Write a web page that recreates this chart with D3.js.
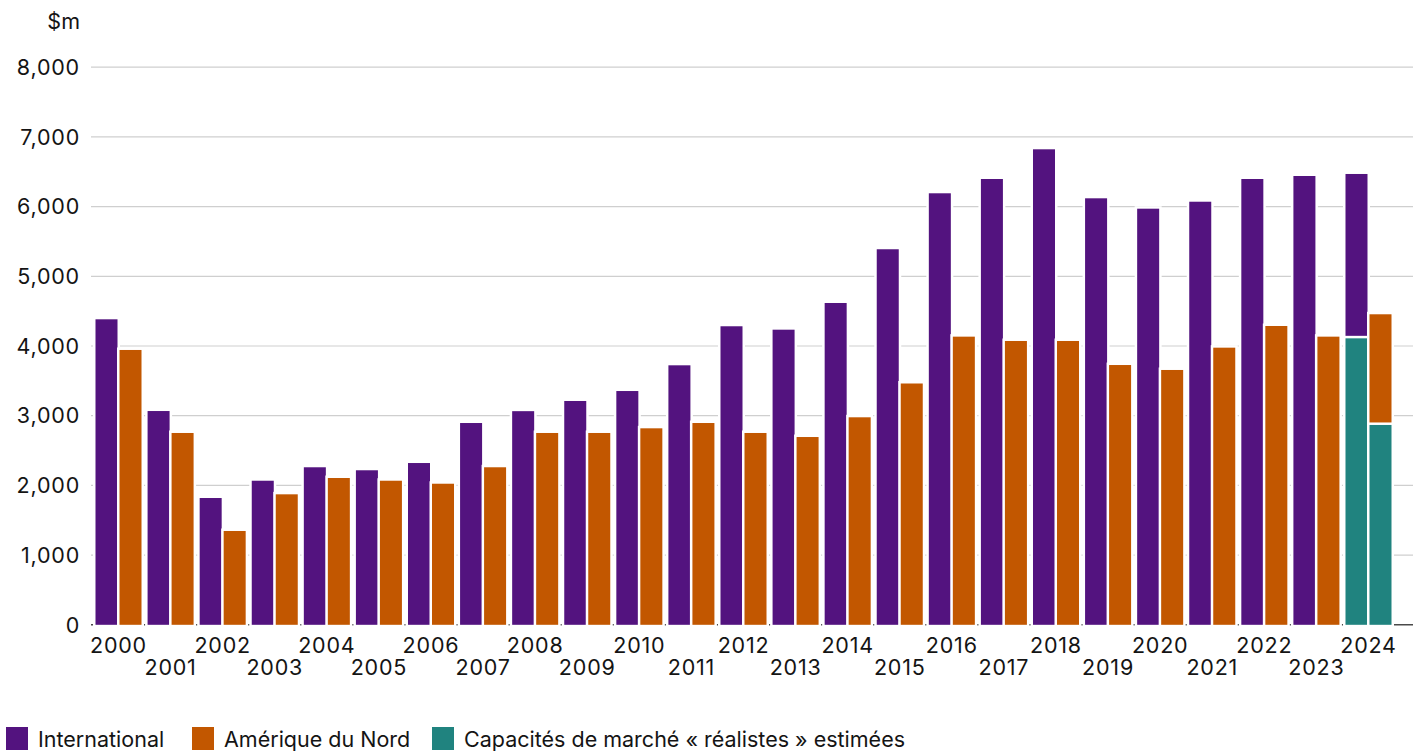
<!DOCTYPE html>
<html>
<head>
<meta charset="utf-8">
<script src="https://cdn.jsdelivr.net/npm/d3@7"></script>
<style>
  body { margin: 0; background: #fff; }
  svg { display: block; }
  text { font-family: Inter, "Noto Sans", sans-serif; fill: #141414; }
  .num { letter-spacing: 0.8px; }
</style>
</head>
<body>
<svg id="chart" width="1422" height="751"></svg>
<script>
// Annual values, $m
const years = [2000, 2001, 2002, 2003, 2004, 2005, 2006, 2007, 2008, 2009, 2010, 2011, 2012,
               2013, 2014, 2015, 2016, 2017, 2018, 2019, 2020, 2021, 2022, 2023, 2024];
const international = [4383, 3067, 1819, 2067, 2260, 2217, 2321, 2895, 3065, 3211, 3354, 3723, 4283,
                       4234, 4617, 5388, 6191, 6396, 6822, 6119, 5970, 6070, 6396, 6439, 6468];
const northAmerica = [3943, 2752, 1346, 1872, 2106, 2067, 2024, 2260, 2752, 2752, 2819, 2895, 2752,
                      2694, 2977, 3462, 4134, 4072, 4072, 3727, 3656, 3976, 4287, 4134, 4455];
// Estimated "realistic" market capacity, shown as the lower part of the 2024 bars
const capacityYear = 2024;
const capacityInternational = 4110;
const capacityNorthAmerica = 2867;

const yTicks = [0, 1000, 2000, 3000, 4000, 5000, 6000, 7000, 8000];
const seriesKeys = ["int", "na"];
const legendLabels = ["International", "Amérique du Nord", "Capacités de marché « réalistes » estimées"];
const colors = { int: "#53137f", na: "#c25700", cap: "#20837f" };

const svg = d3.select("#chart");
const plotLeft = 91, plotRight = 1413, plotTop = 67.2, plotBottom = 624.8;
const fontSize = 21.5;

const y = d3.scaleLinear().domain([0, 8000]).range([plotBottom, plotTop]);
const x0 = d3.scaleBand().domain(years).range([91, 1396])
  .paddingInner(0.1167).paddingOuter(0.0864);
const x1 = d3.scaleBand().domain(seriesKeys).range([0, x0.bandwidth()]).paddingInner(0.0833);

// gridlines
svg.append("g").selectAll("line").data(yTicks.filter(d => d > 0)).join("line")
  .attr("x1", plotLeft).attr("x2", plotRight)
  .attr("y1", d => y(d)).attr("y2", d => y(d))
  .attr("stroke", "#cfcfcf").attr("stroke-width", 1.2);

// baseline
svg.append("line").attr("x1", plotLeft).attr("x2", plotRight)
  .attr("y1", y(0)).attr("y2", y(0))
  .attr("stroke", "#4a4a4a").attr("stroke-width", 1.5);

// y tick labels
svg.append("g").selectAll("text").data(yTicks).join("text")
  .attr("class", "num")
  .attr("x", 80).attr("y", d => y(d)).attr("dy", "0.36em")
  .attr("text-anchor", "end").attr("font-size", fontSize)
  .text(d => d3.format(",")(d));

svg.append("text").attr("x", 80).attr("y", 21).attr("dy", "0.36em")
  .attr("text-anchor", "end").attr("font-size", fontSize).text("$m");

// bar segments: upper segment first so the lower one's white edge separates them
const segments = [];
years.forEach((yr, i) => {
  const vals = { int: international[i], na: northAmerica[i] };
  const caps = { int: capacityInternational, na: capacityNorthAmerica };
  seriesKeys.forEach(k => {
    if (yr === capacityYear) {
      segments.push({ yr, k, y0: caps[k], y1: vals[k], color: colors[k] });
      segments.push({ yr, k, y0: 0, y1: caps[k], color: colors.cap });
    } else {
      segments.push({ yr, k, y0: 0, y1: vals[k], color: colors[k] });
    }
  });
});

svg.append("g").selectAll("rect").data(segments).join("rect")
  .attr("x", d => x0(d.yr) + x1(d.k))
  .attr("width", x1.bandwidth())
  .attr("y", d => y(d.y1))
  .attr("height", d => y(d.y0) - y(d.y1))
  .attr("fill", d => d.color)
  .attr("stroke", "#fff").attr("stroke-width", 5)
  .style("paint-order", "stroke");

// x labels, alternating rows
svg.append("g").selectAll("text").data(years).join("text")
  .attr("class", "num")
  .attr("x", d => x0(d) + x0.bandwidth() / 2)
  .attr("y", (d, i) => i % 2 === 0 ? 652.5 : 674.5)
  .attr("text-anchor", "middle").attr("font-size", fontSize)
  .text(d => d);

// legend
const legendX = [6, 192, 432];
const legendColors = [colors.int, colors.na, colors.cap];
const lg = svg.append("g");
legendLabels.forEach((t, i) => {
  lg.append("rect").attr("x", legendX[i]).attr("y", 727).attr("width", 22).attr("height", 23)
    .attr("fill", legendColors[i]);
  lg.append("text").attr("x", legendX[i] + 32).attr("y", 746.5).attr("font-size", fontSize).text(t);
});
</script>
</body>
</html>
